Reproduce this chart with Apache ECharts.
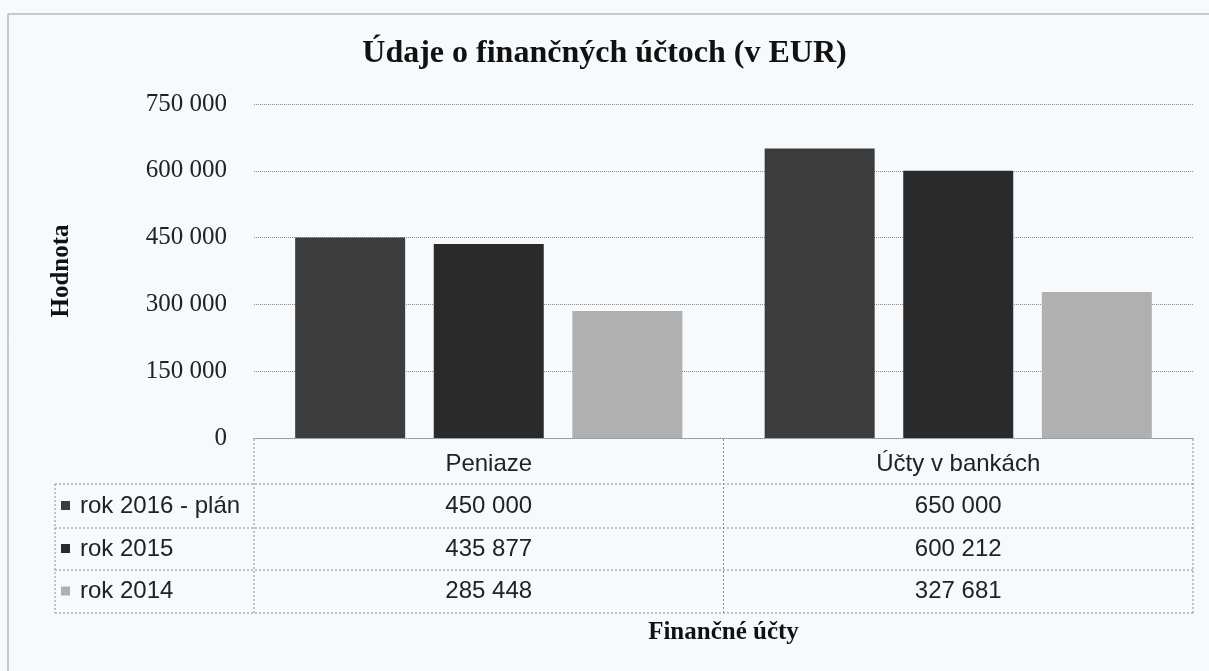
<!DOCTYPE html>
<html>
<head>
<meta charset="utf-8">
<script src="https://cdn.jsdelivr.net/npm/echarts@6/dist/echarts.min.js"></script>
<style>
  html, body { margin: 0; padding: 0; background: #f6fafc; }
  #chart { width: 1209px; height: 671px; }
</style>
</head>
<body>
<div id="chart"></div>
<script>
// kategórie a hodnoty
const categories = ['Peniaze', 'Účty v bankách'];
const seriesNames = ['rok 2016 - plán', 'rok 2015', 'rok 2014'];
const plan2016 = [450000, 650000];
const rok2015 = [435877, 600212];
const rok2014 = [285448, 327681];
const yMin = 0, yMax = 750000, yStep = 150000;

const colors = ['#3c3c3c', '#2a2a2a', '#b0b0b0'];
const values = [plan2016, rok2015, rok2014];

const serif = "'Liberation Serif', 'Times New Roman', serif";
const sans = "'Liberation Sans', Arial, sans-serif";
const lineCol = '#8a8a8a';

function fmt(v) {
  return String(v).replace(/\B(?=(\d{3})+(?!\d))/g, ' ');
}

const chart = echarts.init(document.getElementById('chart'));

chart.setOption({
  backgroundColor: '#f6fafc',
  animation: false,
  title: {
    text: 'Údaje o finančných účtoch (v EUR)',
    left: 'center',
    top: 33,
    textStyle: { fontFamily: serif, fontWeight: 'bold', fontSize: 32, color: '#111' }
  },
  grid: { left: 254, right: 16, top: 104, bottom: 233 },
  xAxis: {
    type: 'category',
    data: categories,
    axisTick: { show: false },
    axisLine: { lineStyle: { color: lineCol, type: 'dotted', width: 1 } },
    axisLabel: { margin: 14, fontFamily: sans, fontSize: 24, color: '#222' },
    name: 'Finančné účty',
    nameLocation: 'middle',
    nameGap: 182,
    nameTextStyle: { fontFamily: serif, fontWeight: 'bold', fontSize: 25, color: '#111' }
  },
  yAxis: {
    type: 'value',
    min: yMin,
    max: yMax,
    interval: yStep,
    axisLine: { show: false },
    axisTick: { show: false },
    splitLine: { lineStyle: { color: lineCol, type: 'dotted', width: 1 } },
    axisLabel: {
      margin: 27,
      fontFamily: serif,
      fontSize: 25,
      color: '#222',
      formatter: fmt
    },
    name: 'Hodnota',
    nameLocation: 'middle',
    nameRotate: 90,
    nameGap: 180,
    nameTextStyle: { fontFamily: serif, fontWeight: 'bold', fontSize: 25, color: '#111' }
  },
  series: seriesNames.map((n, i) => ({
    name: n,
    type: 'bar',
    data: values[i],
    barWidth: 110,
    barGap: '26%',
    itemStyle: { color: colors[i] }
  }))
});

// tabuľka s údajmi pod grafom
const rowTop = [484, 528, 570];
const rowBottom = 613;
const leftEdge = 55, plotLeft = 254, plotRight = 1193;
const mid = (plotLeft + plotRight) / 2;
const dot = { stroke: lineCol, lineWidth: 1, lineDash: [2, 2] };

const g = [];
function hline(y, x1, x2) {
  g.push({ type: 'line', shape: { x1: x1, y1: y, x2: x2, y2: y }, style: dot, silent: true });
}
function vline(x, y1, y2) {
  g.push({ type: 'line', shape: { x1: x, y1: y1, x2: x, y2: y2 }, style: dot, silent: true });
}

rowTop.forEach(y => hline(y, leftEdge, plotRight));
hline(rowBottom, leftEdge, plotRight);
vline(leftEdge, rowTop[0], rowBottom);
vline(plotLeft, 439, rowBottom);
vline(mid, 439, rowBottom);
vline(plotRight, 439, rowBottom);

// rám
g.push({ type: 'line', shape: { x1: 8, y1: 14, x2: 1209, y2: 14 }, style: { stroke: '#999', lineWidth: 1 }, silent: true });
g.push({ type: 'line', shape: { x1: 8, y1: 14, x2: 8, y2: 671 }, style: { stroke: '#999', lineWidth: 1 }, silent: true });

seriesNames.forEach((n, i) => {
  const top = rowTop[i];
  const bottom = i < rowTop.length - 1 ? rowTop[i + 1] : rowBottom;
  const cy = (top + bottom) / 2;
  g.push({ type: 'rect', shape: { x: 61, y: cy - 5, width: 9, height: 9 }, style: { fill: colors[i] }, silent: true });
  g.push({
    type: 'text', x: 80, y: cy,
    style: { text: n, fontFamily: sans, fontSize: 24, fill: '#222', verticalAlign: 'middle', align: 'left' },
    silent: true
  });
  categories.forEach((c, j) => {
    const px = chart.convertToPixel({ xAxisIndex: 0 }, c);
    g.push({
      type: 'text', x: px, y: cy,
      style: { text: fmt(values[i][j]), fontFamily: sans, fontSize: 24, fill: '#222', verticalAlign: 'middle', align: 'center' },
      silent: true
    });
  });
});

chart.setOption({ graphic: g });
</script>
</body>
</html>
